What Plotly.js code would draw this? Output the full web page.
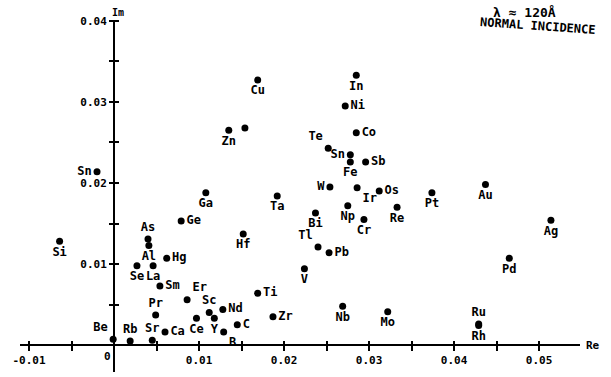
<!DOCTYPE html>
<html>
<head>
<meta charset="utf-8">
<script src="https://cdn.plot.ly/plotly-3.0.1.min.js"></script>
<style>html,body{margin:0;padding:0;background:#fff;}#chart{width:611px;height:377px;}</style>
</head>
<body>
<div id="chart"></div>
<script>
// Element labels and optical constants (Re, Im)
const elements = ["Cu","In","Ni","Zn","","Co","Te","Sn","Fe","Sb","W","Ir","Os","Re","Np","Cr","Bi","Tl","Pb","V","Ti","Zr","Nb","Mo","Ta","Hf","Ga","Ge","Hg","As","Al","Se","La","Sm","Er","Pr","Sc","Y","Ce","Nd","C","B","Ca","Sr","Rb","Be","Si","Sn","Pt","Au","Ag","Pd","Ru","Rh"];
const reValues = [0.0169,0.0285,0.0272,0.0135,0.0154,0.0285,0.0252,0.0278,0.0278,0.0296,0.0254,0.0286,0.0312,0.0333,0.0275,0.0294,0.0237,0.0240,0.0253,0.0224,0.0169,0.0187,0.0269,0.0322,0.0192,0.0152,0.0108,0.0079,0.0062,0.0040,0.0041,0.0027,0.0046,0.0054,0.0086,0.0049,0.0112,0.0118,0.0097,0.0128,0.0145,0.0129,0.0060,0.0045,0.0019,-0.0001,-0.0064,-0.0020,0.0374,0.0437,0.0514,0.0465,0.0429,0.0429];
const imValues = [0.0327,0.0333,0.0295,0.0265,0.0268,0.0262,0.0243,0.0235,0.0226,0.0226,0.0195,0.0194,0.0190,0.0170,0.0172,0.0155,0.0163,0.0121,0.0114,0.0094,0.0064,0.0035,0.0048,0.0041,0.0184,0.0137,0.0188,0.0153,0.0107,0.0131,0.0123,0.0098,0.0098,0.0073,0.0056,0.0037,0.0040,0.0033,0.0033,0.0044,0.0025,0.0016,0.0016,0.0006,0.0005,0.0007,0.0128,0.0214,0.0188,0.0198,0.0154,0.0107,0.0026,0.0024];

// Tick labels
const xTickVals = [-0.01,-0.005,0,0.005,0.01,0.015,0.02,0.025,0.03,0.035,0.04,0.045,0.05];
const xTickText = ["-0.01","","","","0.01","","0.02","","0.03","","0.04","","0.05"];
const yTickVals = [0.005,0.01,0.015,0.02,0.025,0.03,0.035,0.04];
const yTickText = ["","0.01","","0.02","","0.03","","0.04"];

// Label placement style (not data)
const labelPos = ["bottom center","bottom center","middle right","bottom center","bottom center","middle right","top left","middle left","bottom center","middle right","middle left","bottom right","middle right","bottom center","bottom center","bottom center","bottom center","top left","middle right","bottom center","middle right","middle right","bottom center","bottom center","bottom center","bottom center","bottom center","middle right","middle right","top center","bottom center","bottom center","bottom center","middle right","top right","top center","top center","bottom center","bottom center","middle right","middle right","bottom right","middle right","top center","top center","top left","bottom center","middle left","bottom center","bottom center","bottom center","bottom center","top center","bottom center"];

const W = 611, H = 377;
const mL = 20, mR = 31, mT = 20, mB = 5;
const pw = W - mL - mR, ph = H - mT - mB;
const xr = [-0.01106, 0.05482];
const yr = [-0.00333, 0.04012];
const tickHalf = 5;
const xPos = (0 - xr[0]) / (xr[1] - xr[0]);
const yPos = (0 - yr[0]) / (yr[1] - yr[0]);
const fnt = {family: "DejaVu Sans Mono, Liberation Mono, monospace", size: 11, color: "#000", weight: "bold"};

const trace = {
  x: reValues, y: imValues, text: elements, type: "scatter", mode: "markers+text",
  textposition: labelPos,
  marker: {color: "#000", size: 7},
  textfont: {family: "DejaVu Sans Mono, monospace", size: 12, color: "#000", weight: "bold"},
  hoverinfo: "skip", cliponaxis: false
};

// Axis lines drawn by the zero lines; tick marks from free axes shifted so they cross the lines
const layout = {
  width: W, height: H, showlegend: false,
  margin: {l: mL, r: mR, t: mT, b: mB, pad: 0},
  paper_bgcolor: "#fff", plot_bgcolor: "#fff",
  xaxis: {range: xr, anchor: "free", position: yPos + tickHalf / ph, showgrid: false,
    zeroline: true, zerolinecolor: "#000", zerolinewidth: 2.5, showline: false,
    ticks: "outside", ticklen: 2 * tickHalf, tickwidth: 2, tickcolor: "#000", tickfont: fnt,
    tickmode: "array", tickvals: xTickVals, ticktext: xTickText},
  yaxis: {range: yr, anchor: "free", position: xPos + tickHalf / pw, showgrid: false,
    zeroline: true, zerolinecolor: "#000", zerolinewidth: 2.5, showline: false,
    ticks: "outside", ticklen: 2 * tickHalf, tickwidth: 2, tickcolor: "#000", tickfont: fnt,
    tickmode: "array", tickvals: yTickVals, ticktext: yTickText},
  annotations: [
    {xref: "x", yref: "y", x: 0, y: 0, text: "0", showarrow: false, xanchor: "right", yanchor: "top", xshift: -1, yshift: -3, font: fnt},
    {xref: "paper", yref: "paper", x: xPos, y: 1, text: "Im", showarrow: false, xanchor: "center", yanchor: "bottom", xshift: 4, font: {family: fnt.family, size: 10, color: "#000", weight: "bold"}},
    {xref: "paper", yref: "paper", x: 1, y: yPos, text: "Re", showarrow: false, xanchor: "left", yanchor: "middle", xshift: 4, font: fnt},
    {xref: "paper", yref: "paper", x: 0.9, y: 1, text: "λ ≈ 120Å", showarrow: false, xanchor: "center", yanchor: "middle", yshift: 8, font: {family: fnt.family, size: 13, color: "#000", weight: "bold"}},
    {xref: "paper", yref: "paper", x: 0.925, y: 1, text: "NORMAL INCIDENCE", showarrow: false, xanchor: "center", yanchor: "middle", yshift: -6, textangle: 4, font: {family: fnt.family, size: 12, color: "#000", weight: "bold"}}
  ]
};

Plotly.newPlot("chart", [trace], layout, {staticPlot: true, displayModeBar: false});
</script>
</body>
</html>
